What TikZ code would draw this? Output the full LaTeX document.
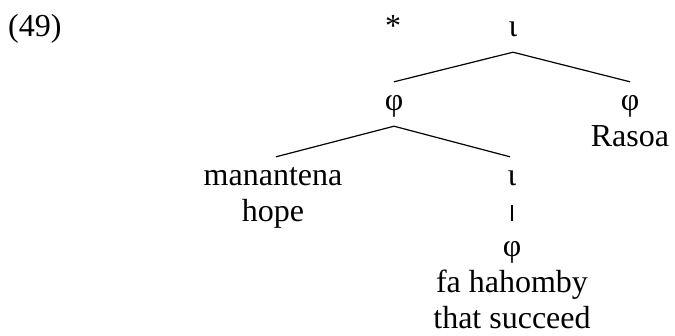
\documentclass[tikz,border=0pt]{standalone}
\usepackage{fontspec}
\setmainfont{Liberation Serif}
\usetikzlibrary{positioning}

\begin{document}
\begin{tikzpicture}[x=1pt, y=1pt, node distance=14pt,
    every node/.style={font=\fontsize{32}{36}\selectfont, inner sep=0pt, text height=15pt, text depth=7pt},
    branch/.style={line width=1.2pt}]
    \useasboundingbox (0,0) rectangle (675,-335);

    % Example number and judgement
    \node[anchor=base west] (num) at (8,-36) {(49)};
    \node[anchor=base] (star) at (393,-36) {*};

    % Nodes
    \node[anchor=base] (iT) at (513,-36) {ι};
    \node[anchor=base] (phiL) at (394,-110) {φ};
    \node[anchor=base] (phiR) at (630,-110) {φ};
    \node (rasoa) [below=of phiR] {Rasoa};
    \node[anchor=base] (man) at (273,-185) {manantena};
    \node (hope) [below=of man] {hope};
    \node[anchor=base] (iM) at (512,-185) {ι};
    \node[anchor=base] (phiB) at (512,-256) {φ};
    \node (fa) [below=of phiB] {fa hahomby};
    \node (that) [below=of fa, text depth=3pt] {that succeed};

    % Branches
    \draw[branch] ([yshift=-9pt]iT.south) -- ([yshift=13pt]phiL.north);
    \draw[branch] ([yshift=-9pt]iT.south) -- ([yshift=13pt]phiR.north);
    \draw[branch] ([yshift=-9pt]phiL.south) -- ([xshift=3pt, yshift=13pt]man.north);
    \draw[branch] ([yshift=-9pt]phiL.south) -- ([xshift=-2pt, yshift=13pt]iM.north);
    \draw[branch] ([yshift=-13pt]iM.south) -- ([yshift=20pt]phiB.north);
\end{tikzpicture}
\end{document}
